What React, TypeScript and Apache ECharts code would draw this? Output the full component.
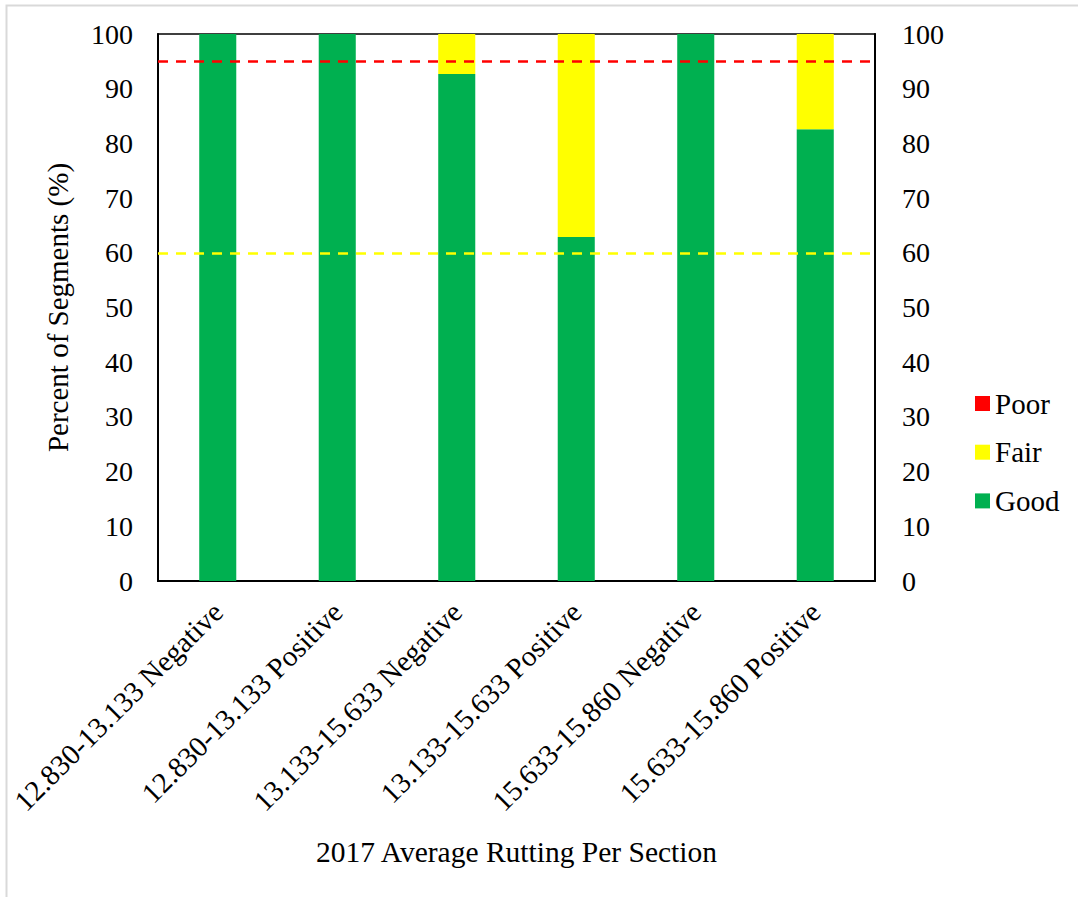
import React, { useEffect, useRef } from "react";
import * as echarts from "echarts";

const categories = [
  "12.830-13.133 Negative",
  "12.830-13.133 Positive",
  "13.133-15.633 Negative",
  "13.133-15.633 Positive",
  "15.633-15.860 Negative",
  "15.633-15.860 Positive",
];
const goodValues = [100, 100, 92.7, 62.9, 100, 82.6];
const fairValues = [0, 0, 7.3, 37.1, 0, 17.4];
const poorValues = [0, 0, 0, 0, 0, 0];
const poorThreshold = 95;
const fairThreshold = 60;

const FONT = "Liberation Serif, Times New Roman, serif";

export default function App() {
  const ref = useRef<HTMLDivElement>(null);
  useEffect(() => {
    if (!ref.current) return;
    const chart = echarts.init(ref.current, undefined, { renderer: "svg" });
    const yBase = {
      type: "value",
      min: 0,
      max: 100,
      interval: 10,
      axisLine: { show: true, lineStyle: { color: "#000", width: 2 } },
      axisTick: { show: false },
      splitLine: { show: false },
    };
    chart.setOption({
      animation: false,
      backgroundColor: "#fff",
      textStyle: { fontFamily: FONT },
      graphic: [
        {
          type: "rect",
          shape: { x: 6.5, y: 5.5, width: 1100, height: 1000 },
          style: { fill: "none", stroke: "#d9d9d9", lineWidth: 2 },
          silent: true,
        },
      ],
      grid: {
        left: 158,
        top: 34,
        width: 717,
        height: 547,
        show: true,
        borderColor: "#000",
        borderWidth: 1.5,
        containLabel: false,
      },
      legend: {
        orient: "vertical",
        left: 970,
        top: 384,
        data: ["Poor", "Fair", "Good"],
        itemWidth: 15,
        itemHeight: 15,
        itemGap: 19.7,
        icon: "rect",
        textStyle: { color: "#000", fontSize: 29, fontFamily: FONT, lineHeight: 29 },
      },
      xAxis: {
        type: "category",
        data: categories,
        axisLine: { show: true, lineStyle: { color: "#000", width: 2 } },
        axisTick: { show: false },
        axisLabel: {
          color: "#000",
          fontSize: 29,
          fontFamily: FONT,
          rotate: 45,
          margin: 26,
          interval: 0,
        },
        name: "2017 Average Rutting Per Section",
        nameLocation: "middle",
        nameGap: 256,
        nameTextStyle: { color: "#000", fontSize: 29.5, fontFamily: FONT },
      },
      yAxis: [
        {
          ...yBase,
          position: "left",
          axisLabel: { color: "#000", fontSize: 28, fontFamily: FONT, margin: 25 },
          name: "Percent of Segments (%)",
          nameLocation: "middle",
          nameGap: 86,
          nameTextStyle: { color: "#000", fontSize: 29, fontFamily: FONT },
        },
        {
          ...yBase,
          position: "right",
          axisLabel: { color: "#000", fontSize: 28, fontFamily: FONT, margin: 27 },
        },
      ],
      series: [
        {
          name: "Good",
          type: "bar",
          stack: "s",
          data: goodValues,
          barWidth: "31%",
          itemStyle: { color: "#00B050" },
          markLine: {
            symbol: "none",
            silent: true,
            label: { show: false },
            data: [
              { yAxis: poorThreshold, lineStyle: { color: "#FF0000", type: [10, 8], width: 2.5 } },
              { yAxis: fairThreshold, lineStyle: { color: "#FFFF00", type: [10, 8], width: 2.5 } },
            ],
          },
        },
        {
          name: "Fair",
          type: "bar",
          stack: "s",
          data: fairValues,
          itemStyle: { color: "#FFFF00" },
        },
        {
          name: "Poor",
          type: "bar",
          stack: "s",
          data: poorValues,
          itemStyle: { color: "#FF0000" },
        },
      ],
    });
    return () => chart.dispose();
  }, []);
  return (
    <div
      ref={ref}
      style={{ position: "absolute", left: 0, top: 0, width: 1078, height: 897 }}
    />
  );
}
